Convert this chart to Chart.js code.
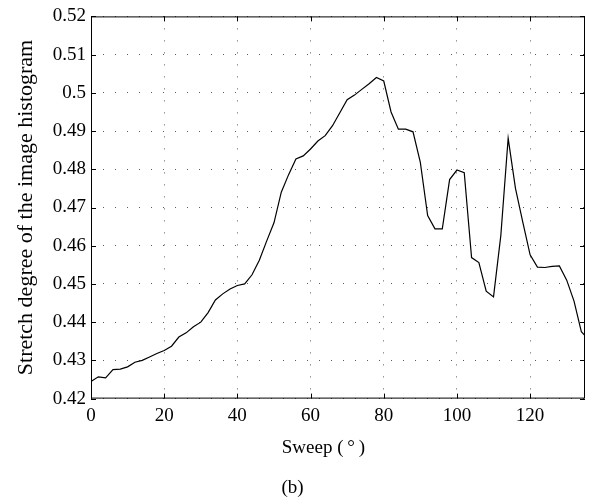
<!DOCTYPE html>
<html>
<head>
<meta charset="utf-8">
<script src="https://cdn.jsdelivr.net/npm/chart.js@4/dist/chart.umd.min.js"></script>
<style>
  body { margin: 0; background: #fff; }
</style>
</head>
<body>
<canvas id="stretchChart" width="593" height="504"></canvas>
<script>
// Sweep angle (degrees)
const sweep = [0, 2, 4, 6, 8, 10, 12, 14, 16, 18, 20, 22, 24, 26, 28, 30, 32, 34, 36, 38,
  40, 42, 44, 46, 48, 50, 52, 54, 56, 58, 60, 62, 64, 66, 68, 70, 72, 74, 76, 78,
  80, 82, 84, 86, 88, 90, 92, 94, 96, 98, 100, 102, 104, 106, 108, 110, 112, 114, 116, 118,
  120, 122, 124, 126, 128, 130, 132, 134, 135];

// Stretch degree
const stretch = [0.4245, 0.4257, 0.4254, 0.4276, 0.4277, 0.4283, 0.4295, 0.4300, 0.4309, 0.4318,
  0.4326, 0.4337, 0.4361, 0.4372, 0.4388, 0.4400, 0.4425, 0.4458, 0.4474, 0.4487,
  0.4496, 0.4500, 0.4524, 0.4562, 0.4612, 0.4660, 0.4740, 0.4786, 0.4827, 0.4835,
  0.4853, 0.4874, 0.4888, 0.4914, 0.4948, 0.4982, 0.4994, 0.5009, 0.5024, 0.5040,
  0.5031, 0.4950, 0.4905, 0.4905, 0.4898, 0.4818, 0.4679, 0.4644, 0.4644, 0.4773,
  0.4798, 0.4791, 0.4569, 0.4556, 0.4481, 0.4466, 0.4627, 0.4881, 0.4750, 0.4662,
  0.4576, 0.4544, 0.4543, 0.4546, 0.4547, 0.4510, 0.4455, 0.4375, 0.4365];

// Tick labels
const xTicks = [0, 20, 40, 60, 80, 100, 120];
const yTicks = [0.42, 0.43, 0.44, 0.45, 0.46, 0.47, 0.48, 0.49, 0.50, 0.51, 0.52];

const xLabel = "Sweep (\u2009°\u2009)";
const serif = "'Liberation Serif', 'DejaVu Serif', serif";

// Frame, inward ticks on all four sides (MATLAB look) and the x label
const frameTicks = {
  id: "frameTicks",
  afterDraw(chart) {
    const { ctx, chartArea: a, scales } = chart;
    ctx.save();
    ctx.strokeStyle = "#000";
    ctx.lineWidth = 1;
    ctx.strokeRect(a.left + 0.5, a.top + 0.5, a.right - a.left - 1, a.bottom - a.top - 1);
    ctx.beginPath();
    xTicks.forEach(v => {
      const px = Math.round(scales.x.getPixelForValue(v)) + 0.5;
      ctx.moveTo(px, a.bottom); ctx.lineTo(px, a.bottom - 5);
      ctx.moveTo(px, a.top); ctx.lineTo(px, a.top + 5);
    });
    yTicks.forEach(v => {
      const py = Math.round(scales.y.getPixelForValue(v)) + 0.5;
      ctx.moveTo(a.left, py); ctx.lineTo(a.left + 5, py);
      ctx.moveTo(a.right, py); ctx.lineTo(a.right - 5, py);
    });
    ctx.stroke();

    // x axis label, sits a bit left of the plot centre in the original
    ctx.fillStyle = "#000";
    ctx.font = "19px " + serif;
    ctx.textAlign = "center";
    ctx.textBaseline = "middle";
    ctx.fillText(xLabel, scales.x.getPixelForValue(63.5), a.bottom + 49);
    ctx.restore();
  }
};

const ctx = document.getElementById("stretchChart").getContext("2d");
new Chart(ctx, {
  type: "line",
  data: {
    datasets: [{
      data: sweep.map((x, i) => ({ x: x, y: stretch[i] })),
      borderColor: "#000",
      borderWidth: 1.2,
      pointRadius: 0,
      tension: 0,
      fill: false
    }]
  },
  options: {
    responsive: false,
    animation: false,
    layout: { padding: { top: 11, right: 8, left: 0, bottom: 0 } },
    plugins: {
      legend: { display: false },
      tooltip: { enabled: false },
      title: {
        display: true,
        position: "bottom",
        text: "(b)",
        color: "#000",
        font: { family: serif, size: 19, weight: "normal" },
        padding: { top: 4, bottom: 5 }
      }
    },
    scales: {
      x: {
        type: "linear",
        min: 0,
        max: 135,
        afterBuildTicks: s => { s.ticks = xTicks.map(v => ({ value: v })); },
        afterFit: s => { s.height = 73.6; },
        ticks: {
          color: "#000",
          padding: 6,
          maxRotation: 0,
          font: { family: serif, size: 19 }
        },
        grid: {
          color: "rgba(0,0,0,0.65)",
          lineWidth: 1,
          drawTicks: false
        },
        border: { display: false, dash: [1, 11] }
      },
      y: {
        min: 0.42,
        max: 0.52,
        afterBuildTicks: s => { s.ticks = yTicks.map(v => ({ value: v })); },
        afterFit: s => { s.width = 91; },
        ticks: {
          color: "#000",
          padding: 5,
          font: { family: serif, size: 19 },
          callback: v => String(Number(v.toFixed(2)))
        },
        grid: {
          color: "rgba(0,0,0,0.65)",
          lineWidth: 1,
          drawTicks: false
        },
        border: { display: false, dash: [1, 11] },
        title: {
          display: true,
          text: "Stretch degree of the image histogram",
          color: "#000",
          font: { family: serif, size: 22 },
          padding: { top: 13, bottom: 0 }
        }
      }
    }
  },
  plugins: [frameTicks]
});
</script>
</body>
</html>
